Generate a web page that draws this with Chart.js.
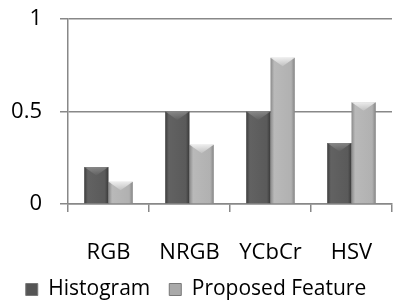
<!DOCTYPE html>
<html>
<head>
<meta charset="utf-8">
<script src="https://cdn.jsdelivr.net/npm/chart.js@4/dist/chart.umd.min.js"></script>
<style>
  html, body { margin: 0; padding: 0; background: #fff; }
  #wrap { width: 393px; height: 304px; }
</style>
</head>
<body>
<div id="wrap"><canvas id="chart" width="393" height="304"></canvas></div>
<script>
const categories = ["RGB", "NRGB", "YCbCr", "HSV"];
const histogram = [0.2, 0.5, 0.5, 0.33];
const proposed = [0.12, 0.32, 0.79, 0.55];
const yTicks = [0, 0.5, 1];

const FONT = "'Open Sans', sans-serif";
const fills = ["#555555", "#a9a9a9"];
const shades = [
  ["#3c3c3c", "#626262", "#5a5a5a", "#383838"],
  ["#8a8a8a", "#b9b9b9", "#b1b1b1", "#858585"]
];

// bevelled-looking bars: gradient across each bar plus a pyramid top
const bevel = {
  id: "bevel",
  beforeDatasetsDraw(chart) {
    const ctx = chart.ctx;
    chart.data.datasets.forEach((ds, i) => {
      chart.getDatasetMeta(i).data.forEach(bar => {
        const l = bar.x - bar.width / 2, r = bar.x + bar.width / 2;
        const g = ctx.createLinearGradient(l, 0, r, 0);
        const s = shades[i];
        g.addColorStop(0, s[0]);
        g.addColorStop(0.15, s[1]);
        g.addColorStop(0.85, s[2]);
        g.addColorStop(1, s[3]);
        bar.options = Object.assign({}, bar.options, { backgroundColor: g });
      });
    });
  },
  afterDatasetsDraw(chart) {
    const ctx = chart.ctx;
    ctx.save();
    chart.data.datasets.forEach((ds, i) => {
      chart.getDatasetMeta(i).data.forEach(bar => {
        const l = bar.x - bar.width / 2, r = bar.x + bar.width / 2;
        const d = Math.min(bar.width * 0.35, (bar.base - bar.y) / 2);
        const g = ctx.createLinearGradient(0, bar.y, 0, bar.y + d);
        g.addColorStop(0, i ? "rgba(255,255,255,0.75)" : "rgba(255,255,255,0.25)");
        g.addColorStop(1, i ? "rgba(255,255,255,0.15)" : "rgba(255,255,255,0.02)");
        ctx.fillStyle = g;
        ctx.beginPath();
        ctx.moveTo(l, bar.y);
        ctx.lineTo(r, bar.y);
        ctx.lineTo(bar.x, bar.y + d);
        ctx.closePath();
        ctx.fill();
      });
    });
    ctx.restore();
  }
};

new Chart(document.getElementById("chart"), {
  type: "bar",
  data: {
    labels: categories,
    datasets: [
      { label: "Histogram", data: histogram, backgroundColor: fills[0], borderWidth: 0 },
      { label: "Proposed Feature", data: proposed, backgroundColor: fills[1], borderWidth: 0 }
    ]
  },
  options: {
    responsive: false,
    animation: false,
    layout: { padding: { top: 19, right: 1, left: 0, bottom: 0 } },
    datasets: { bar: { categoryPercentage: 0.6, barPercentage: 1.0 } },
    plugins: {
      tooltip: { enabled: false },
      legend: {
        position: "bottom",
        maxHeight: 44,
        labels: {
          font: { family: FONT, size: 21 },
          color: "#000",
          boxWidth: 12,
          boxHeight: 12,
          padding: 19,
          generateLabels(chart) {
            return chart.data.datasets.map((ds, i) => ({
              text: ds.label, fillStyle: fills[i], strokeStyle: "#777", lineWidth: 1,
              datasetIndex: i, hidden: false
            }));
          }
        }
      }
    },
    scales: {
      x: {
        grid: { offset: true, drawOnChartArea: false, color: "#888", tickLength: 8, lineWidth: 1.5 },
        border: { color: "#888", width: 1.5 },
        ticks: { font: { family: FONT, size: 22 }, color: "#000", padding: 28 },
        afterFit(scale) { scale.height = 56; scale.paddingLeft = 0; scale.paddingRight = 0; }
      },
      y: {
        min: 0, max: 1,
        afterBuildTicks(scale) { scale.ticks = yTicks.map(v => ({ value: v })); },
        grid: { color: "#888", tickLength: 8, lineWidth: 1.5 },
        border: { color: "#888", width: 1.5 },
        ticks: { font: { family: FONT, size: 22 }, color: "#000", padding: 18, callback: v => String(v) },
        afterFit(scale) { scale.width = 68; scale.paddingTop = 0; scale.paddingBottom = 0; }
      }
    }
  },
  plugins: [bevel]
});
</script>
</body>
</html>
